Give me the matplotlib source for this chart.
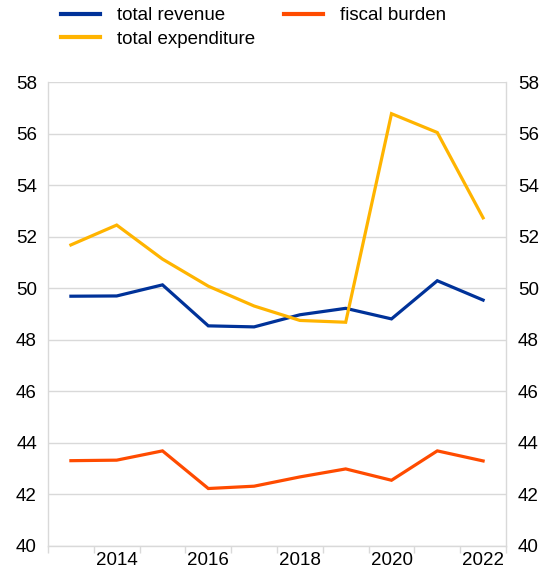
#!/usr/bin/env python3
"""Revenue, expenditure and fiscal burden, % of GDP."""

import matplotlib.pyplot as plt
from matplotlib.ticker import FixedLocator, NullFormatter

plt.rcParams["font.family"] = ["Liberation Sans", "DejaVu Sans"]

years = [2013, 2014, 2015, 2016, 2017, 2018, 2019, 2020, 2021, 2022]
total_revenue = [49.69, 49.70, 50.13, 48.54, 48.50, 48.97, 49.22, 48.81, 50.29, 49.54]
total_expenditure = [51.68, 52.45, 51.13, 50.08, 49.31, 48.75, 48.68, 56.77, 56.04, 52.73]
fiscal_burden = [43.31, 43.33, 43.69, 42.23, 42.32, 42.68, 42.99, 42.55, 43.69, 43.30]

series = [
    ("total revenue", total_revenue, "#003299"),
    ("total expenditure", total_expenditure, "#FFB400"),
    ("fiscal burden", fiscal_burden, "#FF4B00"),
]

FS = 13.5

fig = plt.figure(figsize=(5.49, 5.73), dpi=100)
ax = fig.add_axes([48 / 549, 1 - 546 / 573, (506 - 48) / 549, (546 - 82) / 573])

xs = list(range(len(years)))
handles = []
for label, values, color in series:
    (line,) = ax.plot(xs, values, color=color, linewidth=2.3, label=label,
                      solid_joinstyle="miter", zorder=3)
    handles.append(line)

ax.set_xlim(-0.5, len(years) - 0.5)
ax.set_ylim(40, 58)
ax.set_yticks(range(40, 59, 2))
ax.grid(axis="y", color="#d9d9d9", linewidth=1)
ax.set_axisbelow(True)

# year labels every second category, small ticks on category borders
label_pos = [i for i, y in enumerate(years) if y % 2 == 0]
ax.set_xticks(label_pos)
ax.set_xticklabels([str(years[i]) for i in label_pos])
ax.tick_params(axis="x", which="major", length=0, pad=4.5, labelsize=FS)
ax.xaxis.set_minor_locator(FixedLocator([i - 0.5 for i in range(len(years) + 1)]))
ax.xaxis.set_minor_formatter(NullFormatter())
ax.tick_params(axis="x", which="minor", length=5, color="#d9d9d9", width=1)

ax.tick_params(axis="y", length=0, labelsize=FS, pad=8)

ax.spines["top"].set_visible(False)
for side in ("left", "right", "bottom"):
    ax.spines[side].set_color("#d9d9d9")
    ax.spines[side].set_linewidth(1)

ax2 = ax.twinx()
ax2.set_ylim(ax.get_ylim())
ax2.set_yticks(range(40, 59, 2))
ax2.tick_params(axis="y", length=0, labelsize=FS, pad=8.5)
for side in ax2.spines:
    ax2.spines[side].set_visible(False)

leg = fig.legend(handles=handles, loc="upper left", bbox_to_anchor=(52 / 549, 1.004),
                 ncol=2, frameon=False, fontsize=FS, borderpad=0, handlelength=2.08,
                 handletextpad=0.9, columnspacing=1.55, labelspacing=0.33)
for h in leg.get_lines():
    h.set_linewidth(3)

fig.savefig("out.png", dpi=100)
